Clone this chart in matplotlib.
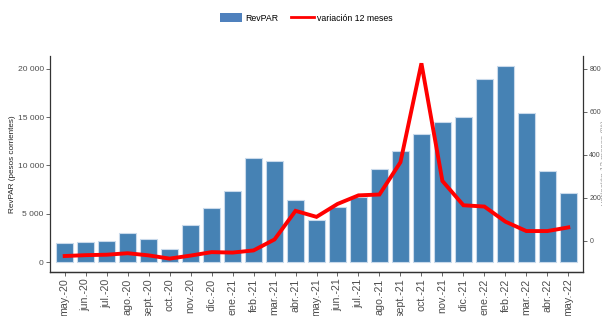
import matplotlib
matplotlib.use("Agg")
import matplotlib.pyplot as plt
from matplotlib.ticker import FuncFormatter
from matplotlib.patches import Patch
from matplotlib.lines import Line2D

plt.rcParams["font.family"] = ["Liberation Sans", "DejaVu Sans"]

months = ["may.-20", "jun.-20", "jul.-20", "ago.-20", "sept.-20", "oct.-20", "nov.-20",
          "dic.-20", "ene.-21", "feb.-21", "mar.-21", "abr.-21", "may.-21", "jun.-21",
          "jul.-21", "ago.-21", "sept.-21", "oct.-21", "nov.-21", "dic.-21", "ene.-22",
          "feb.-22", "mar.-22", "abr.-22", "may.-22"]
revpar = [2000, 2100, 2150, 3000, 2450, 1400, 3800, 5650, 7350, 10750, 10500, 6400, 4350,
          5750, 6700, 9600, 11500, 13250, 14500, 15000, 18900, 20300, 15450, 9450, 7200]
variacion = [-70, -66, -64, -57, -67, -82, -68, -52, -54, -44, 7, 140, 112, 172, 212, 216,
             366, 826, 279, 166, 160, 90, 46, 46, 63]

fig = plt.figure(figsize=(6.02, 3.16), dpi=100)
ax = fig.add_axes([50/602, 1-271.5/316, (583-50)/602, (271.5-56)/316])
ax2 = ax.twinx()

x = list(range(len(months)))
ax.bar(x, revpar, width=0.82, color="#4682B4", edgecolor="#C9DAEB", linewidth=0.8, zorder=2)
ax2.plot(x, variacion, color="#FF0000", lw=2.8, zorder=3, solid_joinstyle="miter")

ax.set_xlim(-0.7, 24.7)
ax.set_ylim(-950, 21300)
ax2.set_ylim(-142, 860)

fmt = FuncFormatter(lambda v, p: f"{int(v):,}".replace(",", " "))
ax.set_yticks([0, 5000, 10000, 15000, 20000])
ax.yaxis.set_major_formatter(fmt)
ax2.set_yticks([0, 200, 400, 600, 800])

ax.set_xticks(x)
ax.set_xticklabels(months, rotation=90)

for a in (ax, ax2):
    a.spines["top"].set_visible(False)
    for s in ("left", "right", "bottom"):
        a.spines[s].set_color("#333333")
        a.spines[s].set_linewidth(0.9)
    a.tick_params(axis="both", length=3, width=0.6, color="#4D4D4D", labelcolor="#4D4D4D",
                  labelsize=6.1, pad=1.5)
ax.tick_params(axis="x", labelsize=7.7, pad=2)
ax2.tick_params(axis="y", labelsize=5.0, pad=1.5)
ax2.spines["left"].set_visible(False)
ax.spines["right"].set_visible(False)
ax.set_zorder(1)
ax2.set_zorder(2)
ax2.patch.set_visible(False)

ax.set_ylabel("RevPAR (pesos corrientes)", fontsize=5.9, color="#222222", labelpad=1.5)

fig.text(0.9985, 0.484, "variación 12 meses (%)", rotation=90, ha="left", va="center",
         fontsize=5.9, color="#999999")

handles = [Patch(facecolor="#4F81BD", edgecolor="none"),
           Line2D([0], [0], color="#FF0000", lw=2.0)]
fig.legend(handles, ["RevPAR", "variación 12 meses"], loc="center", bbox_to_anchor=(0.508, 0.943),
           ncol=2, frameon=False, fontsize=6.3, handlelength=2.6, handleheight=1.1,
           columnspacing=1.5, handletextpad=0.3)

fig.savefig("out.png", dpi=100)
